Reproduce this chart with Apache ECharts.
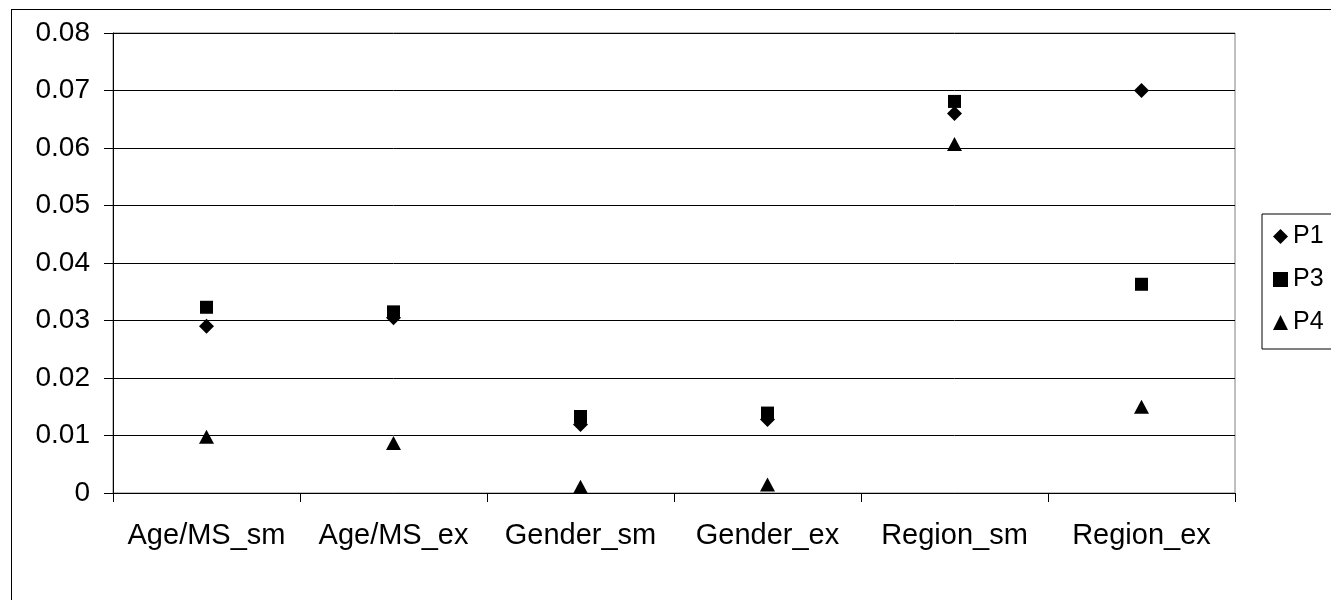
<!doctype html>
<html lang="en">

<head>
    <meta charset="utf-8">
    <title>P1 / P3 / P4</title>
    <script src="https://cdn.jsdelivr.net/npm/echarts@6/dist/echarts.min.js"></script>
    <style>
        body { margin: 0; background: #fff; }
        #chart { position: absolute; left: 0; top: 0; width: 1331px; height: 600px; }
        #frame { position: absolute; left: 11px; top: 9px; width: 1400px; height: 700px;
                 border: 1px solid #000; pointer-events: none; }
    </style>
</head>

<body>
    <div id="chart"></div>
    <div id="frame"></div>
    <script type="text/javascript">
        var categories = ['Age/MS_sm', 'Age/MS_ex', 'Gender_sm', 'Gender_ex', 'Region_sm', 'Region_ex'];
        var p1 = [0.0290, 0.0305, 0.0119, 0.0128, 0.0660, 0.0700];
        var p3 = [0.0323, 0.0315, 0.0133, 0.0139, 0.0681, 0.0363];
        var p4 = [0.0098, 0.0087, 0.0011, 0.0015, 0.0607, 0.0150];
        var yTicks = { min: 0, max: 0.08, step: 0.01 };

        var font = 'Liberation Sans, Arial, sans-serif';
        var chart = echarts.init(document.getElementById('chart'));
        var option = {
            animation: false,
            textStyle: { fontFamily: font, color: '#000' },
            grid: {
                left: 113, right: 96, top: 33, bottom: 107,
                show: true, borderColor: '#808080', borderWidth: 1, backgroundColor: '#fff'
            },
            legend: {
                orient: 'vertical',
                left: 1262, top: 214,
                padding: [10, 24, 14, 11],
                itemGap: 18,
                itemWidth: 15, itemHeight: 15,
                borderColor: '#000', borderWidth: 1, borderRadius: 0,
                textStyle: { fontSize: 25, fontFamily: font, color: '#000' },
                data: [
                    { name: 'P1', icon: 'diamond' },
                    { name: 'P3', icon: 'rect' },
                    { name: 'P4', icon: 'triangle' }
                ]
            },
            xAxis: {
                type: 'category',
                data: categories,
                boundaryGap: true,
                axisLine: { lineStyle: { color: '#000', width: 1 } },
                axisTick: { show: true, length: 9, lineStyle: { color: '#000' } },
                axisLabel: { fontSize: 29, color: '#000', margin: 28, interval: 0 },
                splitLine: { show: false }
            },
            yAxis: {
                type: 'value',
                min: yTicks.min, max: yTicks.max, interval: yTicks.step,
                axisLine: { show: true, lineStyle: { color: '#000', width: 1 } },
                axisTick: { show: true, length: 9, lineStyle: { color: '#000' } },
                axisLabel: {
                    fontSize: 28, color: '#000', margin: 23,
                    formatter: function (v) { return v === 0 ? '0' : v.toFixed(2); }
                },
                splitLine: { show: true, lineStyle: { color: '#000', width: 1 } }
            },
            series: [{
                name: 'P1', type: 'scatter', data: p1,
                symbol: 'diamond', symbolSize: [15, 15],
                itemStyle: { color: '#000', opacity: 1 }
            }, {
                name: 'P3', type: 'scatter', data: p3,
                symbol: 'rect', symbolSize: [13, 13],
                itemStyle: { color: '#000', opacity: 1 }
            }, {
                name: 'P4', type: 'scatter', data: p4,
                symbol: 'triangle', symbolSize: [15, 14],
                itemStyle: { color: '#000', opacity: 1 }
            }]
        };
        chart.setOption(option);
    </script>
</body>

</html>
